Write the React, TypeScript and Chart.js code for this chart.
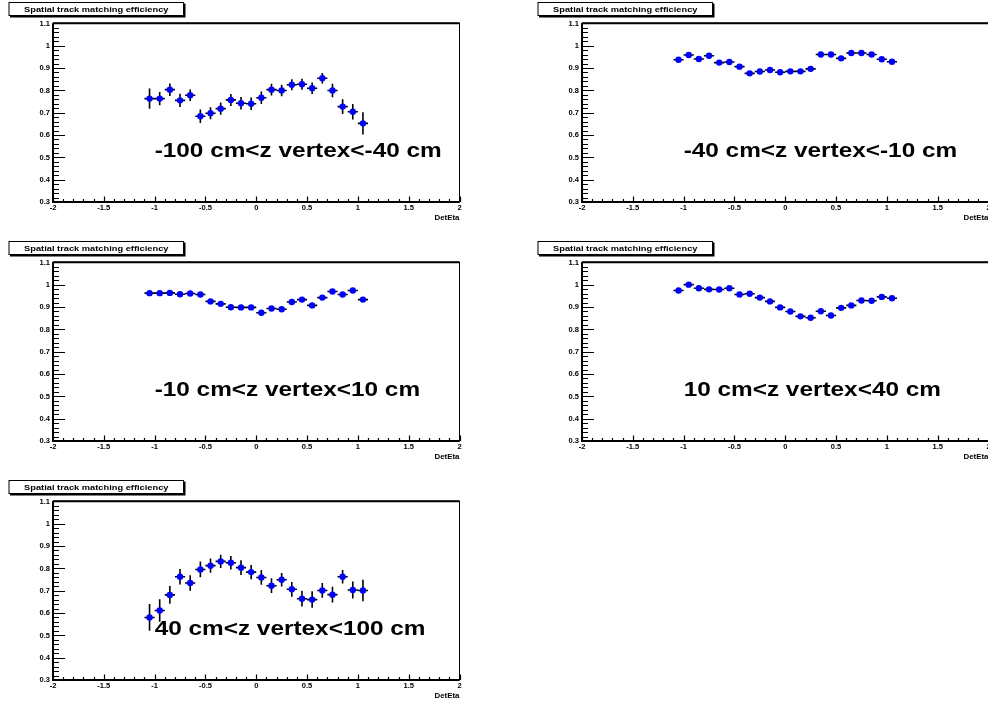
import { useEffect, useRef } from "react";
import { Chart, registerables } from "chart.js";

Chart.register(...registerables);

// DetEta bin centres (bin width 0.1)
const etaCenters = [
  -1.05, -0.95, -0.85, -0.75, -0.65, -0.55, -0.45, -0.35, -0.25, -0.15, -0.05,
  0.05, 0.15, 0.25, 0.35, 0.45, 0.55, 0.65, 0.75, 0.85, 0.95, 1.05,
];
const etaHalfWidth = 0.05;

// Matching efficiency per z-vertex slice, with statistical errors
const effZm100toM40 = [0.763, 0.763, 0.803, 0.755, 0.778, 0.684, 0.697, 0.718, 0.757, 0.742, 0.74, 0.767, 0.803, 0.799, 0.825, 0.827, 0.809, 0.854, 0.799, 0.727, 0.704, 0.652];
const errZm100toM40 = [0.045, 0.03, 0.028, 0.03, 0.026, 0.03, 0.027, 0.027, 0.027, 0.028, 0.028, 0.028, 0.026, 0.026, 0.025, 0.025, 0.026, 0.024, 0.03, 0.033, 0.035, 0.05];

const effZm40toM10 = [0.937, 0.958, 0.94, 0.955, 0.924, 0.927, 0.906, 0.876, 0.884, 0.891, 0.881, 0.885, 0.885, 0.896, 0.96, 0.96, 0.943, 0.967, 0.967, 0.96, 0.939, 0.928];
const errZm40toM10 = [0.009, 0.008, 0.008, 0.008, 0.008, 0.008, 0.008, 0.008, 0.008, 0.008, 0.008, 0.008, 0.008, 0.008, 0.007, 0.007, 0.008, 0.007, 0.007, 0.007, 0.008, 0.009];

const effZm10to10 = [0.962, 0.962, 0.963, 0.957, 0.96, 0.956, 0.925, 0.914, 0.899, 0.898, 0.898, 0.874, 0.893, 0.89, 0.922, 0.933, 0.907, 0.942, 0.969, 0.956, 0.974, 0.933];
const errZm10to10 = [0.007, 0.007, 0.007, 0.007, 0.007, 0.007, 0.008, 0.008, 0.008, 0.008, 0.008, 0.008, 0.008, 0.008, 0.008, 0.008, 0.008, 0.008, 0.007, 0.007, 0.007, 0.008];

const effZ10to40 = [0.974, 1.0, 0.984, 0.979, 0.978, 0.984, 0.956, 0.959, 0.942, 0.925, 0.898, 0.88, 0.858, 0.852, 0.881, 0.862, 0.896, 0.907, 0.929, 0.928, 0.945, 0.939];
const errZ10to40 = [0.007, 0.006, 0.006, 0.006, 0.006, 0.006, 0.007, 0.007, 0.007, 0.007, 0.008, 0.008, 0.008, 0.008, 0.008, 0.008, 0.008, 0.008, 0.007, 0.007, 0.007, 0.007];

const effZ40to100 = [0.58, 0.611, 0.681, 0.762, 0.734, 0.795, 0.812, 0.831, 0.825, 0.803, 0.783, 0.759, 0.722, 0.749, 0.706, 0.664, 0.66, 0.701, 0.682, 0.762, 0.703, 0.701];
const errZ40to100 = [0.06, 0.05, 0.04, 0.035, 0.035, 0.035, 0.032, 0.03, 0.03, 0.033, 0.032, 0.033, 0.033, 0.03, 0.033, 0.035, 0.037, 0.033, 0.035, 0.03, 0.038, 0.048];

const sliceLabels = [
  "-100 cm<z vertex<-40 cm",
  "-40 cm<z vertex<-10 cm",
  "-10 cm<z vertex<10 cm",
  "10 cm<z vertex<40 cm",
  "40 cm<z vertex<100 cm",
];
const sliceValues = [effZm100toM40, effZm40toM10, effZm10to10, effZ10to40, effZ40to100];
const sliceErrors = [errZm100toM40, errZm40toM10, errZm10to10, errZ10to40, errZ40to100];

const histTitle = "Spatial track matching efficiency";
const xAxisTitle = "DetEta";
const xMajorTicks = [-2, -1.5, -1, -0.5, 0, 0.5, 1, 1.5, 2];
const xTickLabels = ["-2", "-1.5", "-1", "-0.5", "0", "0.5", "1", "1.5", "2"];
const yMajorTicks = [0.3, 0.4, 0.5, 0.6, 0.7, 0.8, 0.9, 1.0, 1.1];
const yTickLabels = ["0.3", "0.4", "0.5", "0.6", "0.7", "0.8", "0.9", "1", "1.1"];
const labelAnchor = { x: -1.0, y: 0.5 };

// Pad placement on the page (pixels)
const PAD_H = 239;
const padLayout = [
  { left: 0, top: 0, width: 494, padL: 53, padR: 34.5 },
  { left: 494, top: 0, width: 500, padL: 88, padR: 5.5 },
  { left: 0, top: 239, width: 494, padL: 53, padR: 34.5 },
  { left: 494, top: 239, width: 500, padL: 88, padR: 5.5 },
  { left: 0, top: 478, width: 494, padL: 53, padR: 34.5 },
];

const FONT = "'Liberation Sans', Arial, Helvetica, sans-serif";
// text is rendered slightly wide, as in the exported canvas
const TEXT_STRETCH = 1.16;

function wideText(
  ctx: CanvasRenderingContext2D,
  text: string,
  x: number,
  y: number,
  align: CanvasTextAlign
) {
  ctx.save();
  ctx.translate(x, y);
  ctx.scale(TEXT_STRETCH, 1);
  ctx.textAlign = align;
  ctx.fillText(text, 0, 0);
  ctx.restore();
}

function makePlugin(idx: number) {
  return {
    id: "rootStyle" + idx,
    beforeDatasetsDraw(chart: any) {
      const { ctx } = chart;
      const xs = chart.scales.x;
      const ys = chart.scales.y;
      const vals = sliceValues[idx];
      const errs = sliceErrors[idx];
      ctx.save();
      ctx.strokeStyle = "#000";
      ctx.lineWidth = 1.6;
      ctx.beginPath();
      etaCenters.forEach((x, i) => {
        const py = ys.getPixelForValue(vals[i]);
        ctx.moveTo(xs.getPixelForValue(x - etaHalfWidth), py);
        ctx.lineTo(xs.getPixelForValue(x + etaHalfWidth), py);
        const px = xs.getPixelForValue(x);
        ctx.moveTo(px, ys.getPixelForValue(vals[i] - errs[i]));
        ctx.lineTo(px, ys.getPixelForValue(vals[i] + errs[i]));
      });
      ctx.stroke();
      ctx.restore();
    },
    afterDraw(chart: any) {
      const { ctx, chartArea } = chart;
      const xs = chart.scales.x;
      const ys = chart.scales.y;
      const { left, right, top, bottom } = chartArea;
      ctx.save();
      ctx.strokeStyle = "#000";
      ctx.fillStyle = "#000";

      // frame
      ctx.lineWidth = 1;
      ctx.strokeRect(left, top, right - left, bottom - top);
      ctx.lineWidth = 2;
      ctx.beginPath();
      ctx.moveTo(left, top);
      ctx.lineTo(left, bottom);
      ctx.lineTo(right, bottom);
      ctx.moveTo(left, top);
      ctx.lineTo(right, top);
      ctx.stroke();

      // y ticks (inside frame)
      ctx.lineWidth = 1.2;
      ctx.beginPath();
      for (let k = 0; k <= 40; k++) {
        const v = 0.3 + k * 0.02;
        const py = Math.round(ys.getPixelForValue(v)) + 0.5;
        const len = k % 5 === 0 ? 12 : 6;
        ctx.moveTo(left, py);
        ctx.lineTo(left + len, py);
      }
      // x ticks (inside frame)
      for (let k = 0; k <= 40; k++) {
        const v = -2 + k * 0.1;
        const px = Math.round(xs.getPixelForValue(v)) + 0.5;
        const len = k % 5 === 0 ? 5.5 : 3;
        ctx.moveTo(px, bottom);
        ctx.lineTo(px, bottom - len);
      }
      ctx.stroke();

      // tick labels
      ctx.font = `bold 6.5px ${FONT}`;
      ctx.textBaseline = "middle";
      yMajorTicks.forEach((v, i) => {
        wideText(ctx, yTickLabels[i], left - 3, ys.getPixelForValue(v) + 0.5, "right");
      });
      ctx.textBaseline = "top";
      xMajorTicks.forEach((v, i) => {
        wideText(ctx, xTickLabels[i], xs.getPixelForValue(v), bottom + 3, "center");
      });
      ctx.font = `bold 6.8px ${FONT}`;
      wideText(ctx, xAxisTitle, right, bottom + 12.5, "right");

      // histogram title box with shadow
      const bx = left - 44.5;
      const by = top - 21.3;
      const bw = 175.5;
      const bh = 14;
      ctx.fillRect(bx + 1.5, by + 1.5, bw, bh);
      ctx.fillStyle = "#fff";
      ctx.fillRect(bx, by, bw, bh);
      ctx.lineWidth = 1;
      ctx.strokeRect(bx + 0.5, by + 0.5, bw - 1, bh - 1);
      ctx.fillStyle = "#000";
      ctx.font = `bold 8px ${FONT}`;
      ctx.textBaseline = "middle";
      wideText(ctx, histTitle, bx + bw / 2, by + bh / 2 + 0.5, "center");

      // z-vertex slice label
      ctx.font = `bold 21px ${FONT}`;
      ctx.textBaseline = "alphabetic";
      wideText(
        ctx,
        sliceLabels[idx],
        xs.getPixelForValue(labelAnchor.x),
        ys.getPixelForValue(labelAnchor.y),
        "left"
      );
      ctx.restore();
    },
  };
}

function Pad({ idx }: { idx: number }) {
  const ref = useRef<HTMLCanvasElement>(null);
  const lay = padLayout[idx];
  useEffect(() => {
    if (!ref.current) return;
    const chart = new Chart(ref.current, {
      type: "scatter",
      data: {
        datasets: [
          {
            data: etaCenters.map((x, i) => ({ x, y: sliceValues[idx][i] })),
            backgroundColor: "#0000ff",
            borderColor: "#0000ff",
            borderWidth: 0,
            pointRadius: 3.2,
            pointHoverRadius: 3.2,
            showLine: false,
          },
        ],
      },
      options: {
        responsive: false,
        animation: false,
        devicePixelRatio: 1,
        layout: {
          padding: { left: lay.padL, right: lay.padR, top: 23.3, bottom: 37 },
        },
        plugins: { legend: { display: false }, tooltip: { enabled: false } },
        scales: {
          x: { type: "linear", min: -2, max: 2, display: false },
          y: { type: "linear", min: 0.3, max: 1.1, display: false },
        },
      },
      plugins: [makePlugin(idx)],
    } as any);
    return () => chart.destroy();
  }, [idx]);
  return (
    <canvas
      ref={ref}
      width={lay.width}
      height={PAD_H}
      style={{ position: "absolute", left: lay.left, top: lay.top, width: lay.width, height: PAD_H }}
    />
  );
}

export default function App() {
  return (
    <div
      style={{
        position: "absolute",
        left: 0,
        top: 0,
        width: 988,
        height: 702,
        overflow: "hidden",
        background: "#fff",
      }}
    >
      {sliceLabels.map((_, i) => (
        <Pad key={i} idx={i} />
      ))}
    </div>
  );
}
